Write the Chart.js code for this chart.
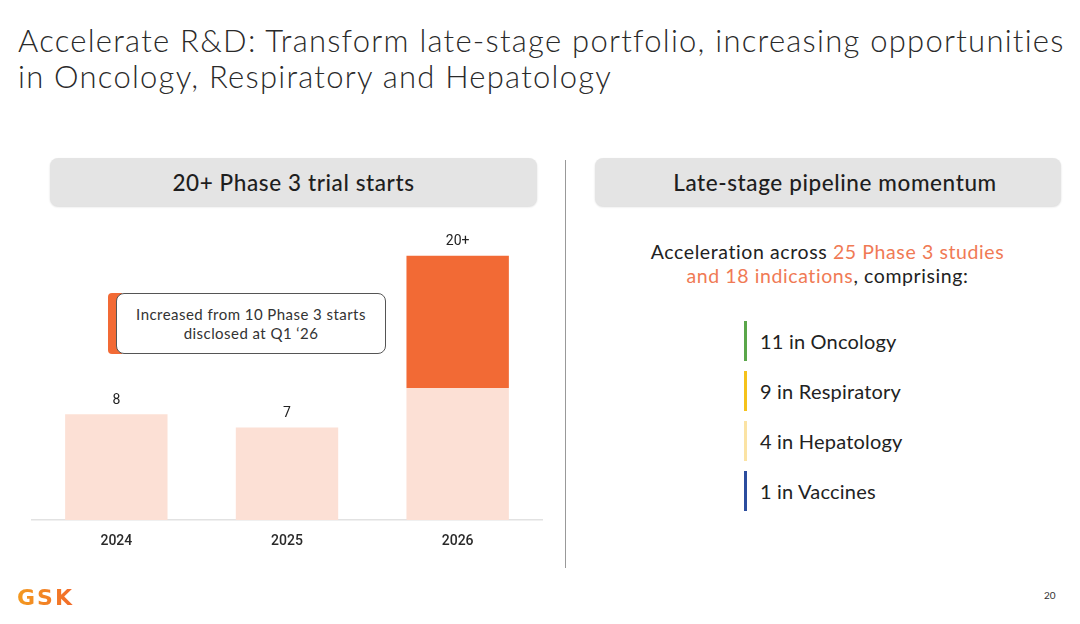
<!DOCTYPE html>
<html><head><meta charset="utf-8">
<script src="https://cdn.jsdelivr.net/npm/chart.js@4"></script>
<style>
html,body{margin:0;padding:0;background:#fff;}
body{width:1080px;height:624px;position:relative;overflow:hidden;font-family:"Lato","Open Sans",sans-serif;color:#222;}
.title{position:absolute;left:18px;top:22px;font-size:31px;font-weight:300;line-height:36px;color:#2a2a2a;letter-spacing:1.25px;white-space:nowrap;}
.hdr{position:absolute;top:158px;height:48px;background:#e4e4e4;border-radius:8px;box-shadow:0 1px 2px rgba(0,0,0,0.15);display:flex;align-items:center;justify-content:center;font-size:22.5px;font-weight:500;color:#1e1e1e;letter-spacing:0.6px;}
.divider{position:absolute;left:565px;top:160px;width:1px;height:408px;background:#999;}
#wrap{position:absolute;left:31px;top:232px;width:512px;height:328px;}
.callout-bar{position:absolute;left:108px;top:293px;width:14px;height:61px;background:#f26a35;border-radius:4px 0 0 4px;}
.callout{position:absolute;left:116px;top:293px;width:268px;height:59px;border:1.5px solid #555;border-radius:8px;background:#fff;display:flex;align-items:center;justify-content:center;text-align:center;font-size:15px;line-height:19px;color:#333;letter-spacing:0.45px;}
.accel{position:absolute;left:590px;top:240px;width:475px;text-align:center;font-size:19.5px;line-height:24px;color:#222;letter-spacing:0.6px;}
.accel .o{color:#f07a55;}
.item{position:absolute;left:744px;height:40px;display:flex;align-items:center;font-size:20px;color:#222;letter-spacing:0.2px;}
.item i{display:inline-block;width:3px;height:40px;margin-right:13px;}
.logo{position:absolute;left:17px;top:585px;font-size:22px;font-weight:900;letter-spacing:2px;background:linear-gradient(90deg,#f39a1f,#f26a2a);-webkit-background-clip:text;color:transparent;font-family:"DejaVu Sans",sans-serif;}
.page{position:absolute;left:1044px;top:589px;font-size:10px;color:#333;}
</style></head>
<body>
<div class="title">Accelerate R&amp;D: Transform late-stage portfolio, increasing opportunities<br>in Oncology, Respiratory and Hepatology</div>
<div class="hdr" style="left:50px;width:487px;">20+ Phase 3 trial starts</div>
<div class="hdr" style="left:595px;width:466px;padding-left:14px;box-sizing:border-box;">Late-stage pipeline momentum</div>
<div class="divider"></div>
<div id="wrap"><canvas id="c"></canvas></div>
<div class="callout-bar"></div>
<div class="callout">Increased from 10 Phase 3 starts<br>disclosed at Q1 ‘26</div>
<div class="accel">Acceleration across <span class="o">25 Phase 3 studies</span><br><span class="o">and 18 indications</span>, comprising:</div>
<div id="list"></div>
<div class="logo">GSK</div>
<div class="page">20</div>
<script>
const years = ["2024", "2025", "2026"];
const baseStarts = [8, 7, 10];
const addedStarts = [0, 0, 10];
const totalLabels = ["8", "7", "20+"];
const areaNames = ["11 in Oncology", "9 in Respiratory", "4 in Hepatology", "1 in Vaccines"];
const areaColors = ["#5aa64a", "#f5c21b", "#fbe3a4", "#2b4d9e"];

const list = document.getElementById('list');
areaNames.forEach((t, i) => {
  const d = document.createElement('div');
  d.className = 'item';
  d.style.top = (321 + i * 50) + 'px';
  d.innerHTML = '<i style="background:' + areaColors[i] + '"></i>' + t;
  list.appendChild(d);
});

const topLabels = {
  id: 'topLabels',
  afterDatasetsDraw(chart) {
    const ctx = chart.ctx;
    ctx.save();
    ctx.font = '14px "Roboto", sans-serif';
    ctx.fillStyle = '#222';
    ctx.textAlign = 'center';
    ctx.textBaseline = 'middle';
    years.forEach((y, i) => {
      let topY = null, x = null;
      chart.data.datasets.forEach((ds, di) => {
        const el = chart.getDatasetMeta(di).data[i];
        if (ds.data[i] > 0) { topY = el.y; x = el.x; }
      });
      ctx.fillText(totalLabels[i], x, topY - 14);
    });
    ctx.restore();
  }
};

new Chart(document.getElementById('c'), {
  type: 'bar',
  data: {
    labels: years,
    datasets: [
      { data: baseStarts, backgroundColor: '#fce0d5', barPercentage: 0.6, categoryPercentage: 1 },
      { data: addedStarts, backgroundColor: '#f26a35', barPercentage: 0.6, categoryPercentage: 1 }
    ]
  },
  options: {
    responsive: true, maintainAspectRatio: false, animation: false,
    layout: { padding: 0 },
    plugins: { legend: { display: false }, tooltip: { enabled: false } },
    scales: {
      x: {
        stacked: true,
        grid: { display: false, drawTicks: false },
        border: { display: true, color: '#e2e2e2', width: 1.5 },
        ticks: { color: '#2a2a2a', font: { family: 'Roboto', size: 14, weight: '500' }, padding: 13 },
        afterFit: (s) => { s.height = 40; }
      },
      y: { stacked: true, display: false, min: 0, max: 21.8 }
    }
  },
  plugins: [topLabels]
});
</script>
</body></html>
